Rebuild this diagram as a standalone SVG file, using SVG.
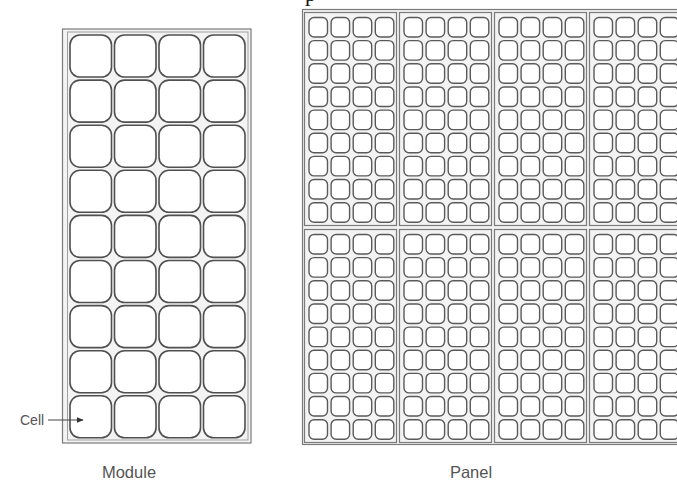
<svg xmlns="http://www.w3.org/2000/svg" xmlns:xlink="http://www.w3.org/1999/xlink" width="677" height="481" viewBox="0 0 677 481">
<style>
.bg{fill:#fff}
.frame{fill:#f3f3f3;stroke:#7a7a7a;stroke-width:1.2}
.frame2{fill:none;stroke:#a0a0a0;stroke-width:1}
.cell{fill:#fff;stroke:#505050;stroke-width:1.6}
.scell{fill:#fff;stroke:#5a5a5a;stroke-width:1.4}
.lbl{font-family:"Liberation Sans",Arial,sans-serif;fill:#555}
.conn{stroke:#444;stroke-width:1.2;fill:none}
</style>
<defs>
<marker id="ah" viewBox="0 0 10 10" refX="9" refY="5" markerWidth="7" markerHeight="7" orient="auto" markerUnits="userSpaceOnUse">
<path d="M0,1 L10,5 L0,9 Z" fill="#333"/>
</marker>
<g id="pmod">
<rect class="frame" x="1.5" y="1.5" width="92" height="213"/>
<g id="srow0">
<rect class="scell" x="6" y="6.5" width="18.5" height="19.5" rx="5"/>
<rect class="scell" x="28.1" y="6.5" width="18.5" height="19.5" rx="5"/>
<rect class="scell" x="50.2" y="6.5" width="18.5" height="19.5" rx="5"/>
<rect class="scell" x="72.3" y="6.5" width="18.5" height="19.5" rx="5"/>
</g>
<use href="#srow0" y="23.15"/>
<use href="#srow0" y="46.3"/>
<use href="#srow0" y="69.45"/>
<use href="#srow0" y="92.6"/>
<use href="#srow0" y="115.75"/>
<use href="#srow0" y="138.9"/>
<use href="#srow0" y="162.05"/>
<use href="#srow0" y="185.2"/>
</g>
</defs>
<rect class="bg" x="0" y="0" width="677" height="481"/>
<text x="305" y="1" font-family="'Liberation Serif',serif" font-size="22" fill="#111">p</text>

<g id="module">
<rect class="frame" x="62.5" y="29" width="188.5" height="414"/>
<rect class="frame2" x="67.5" y="32" width="180.5" height="408"/>
<g id="brow0">
<rect class="cell" x="70" y="35" width="41.5" height="42" rx="10"/>
<rect class="cell" x="114.5" y="35" width="41.5" height="42" rx="10"/>
<rect class="cell" x="159" y="35" width="41.5" height="42" rx="10"/>
<rect class="cell" x="203.5" y="35" width="41.5" height="42" rx="10"/>
</g>
<use href="#brow0" y="45.1"/>
<use href="#brow0" y="90.2"/>
<use href="#brow0" y="135.3"/>
<use href="#brow0" y="180.4"/>
<use href="#brow0" y="225.5"/>
<use href="#brow0" y="270.6"/>
<use href="#brow0" y="315.7"/>
<use href="#brow0" y="360.8"/>
</g>

<g id="panel">
<rect class="frame" x="302.5" y="9.5" width="420" height="435"/>
<use id="pm1" href="#pmod" x="303" y="11"/>
<use id="pm2" href="#pmod" x="398" y="11"/>
<use id="pm3" href="#pmod" x="493" y="11"/>
<use id="pm4" href="#pmod" x="588" y="11"/>
<use id="pm5" href="#pmod" x="303" y="228"/>
<use id="pm6" href="#pmod" x="398" y="228"/>
<use id="pm7" href="#pmod" x="493" y="228"/>
<use id="pm8" href="#pmod" x="588" y="228"/>
</g>

<g id="connectors">
<line class="conn" x1="48" y1="420" x2="83" y2="420" marker-end="url(#ah)"/>
</g>

<g id="labels">
<text class="lbl" x="20" y="425" font-size="14">Cell</text>
<text class="lbl" x="129" y="478" font-size="16.5" text-anchor="middle">Module</text>
<text class="lbl" x="471" y="478" font-size="16.5" text-anchor="middle">Panel</text>
</g>
</svg>
